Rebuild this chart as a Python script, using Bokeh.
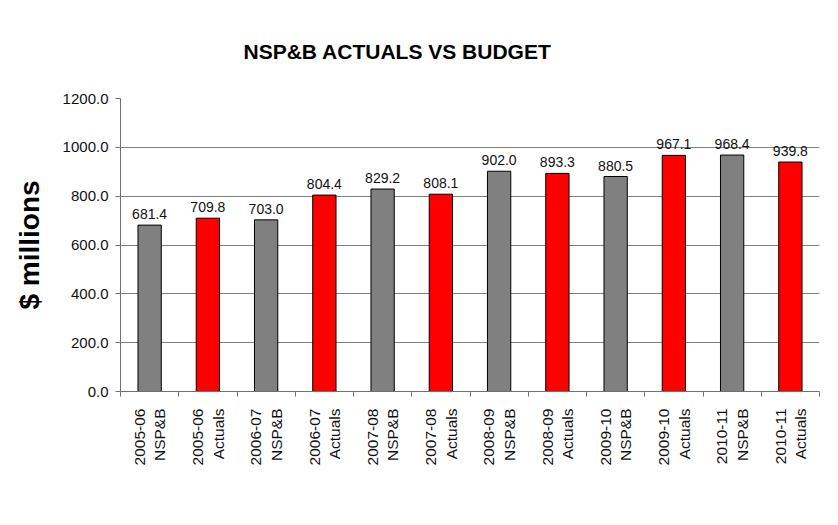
import math
from bokeh.plotting import figure
from bokeh.models import ColumnDataSource, FixedTicker, NumeralTickFormatter, Range1d, LabelSet
from bokeh.core.properties import value
from bokeh.embed import file_html
from bokeh.resources import INLINE

# ---- data ----
years = ["2005-06", "2006-07", "2007-08", "2008-09", "2009-10", "2010-11"]
series_names = ["NSP&B", "Actuals"]
budget = [681.4, 703.0, 829.2, 902.0, 880.5, 968.4]
actuals = [709.8, 804.4, 808.1, 893.3, 967.1, 939.8]
series_colors = ["#808080", "#ff0000"]
y_ticks = [0, 200, 400, 600, 800, 1000, 1200]

labels, values, fills = [], [], []
for yr, b, a in zip(years, budget, actuals):
    labels += [f"{yr}\n{series_names[0]}", f"{yr}\n{series_names[1]}"]
    values += [b, a]
    fills += series_colors
pos = list(range(1, len(labels) + 1))
bounds = [i - 0.5 for i in pos] + [pos[-1] + 0.5]

src = ColumnDataSource(dict(x=pos, top=values, fill=fills,
                            txt=[f"{v:.1f}" for v in values]))

FONT = "Liberation Sans"

p = figure(width=822, height=509,
           x_range=Range1d(bounds[0], bounds[-1]),
           y_range=Range1d(y_ticks[0], y_ticks[-1]),
           output_backend="svg", toolbar_location=None,
           min_border_left=120, min_border_right=3,
           min_border_top=98, min_border_bottom=118)
p.outline_line_color = None
p.background_fill_color = "white"

p.vbar(x="x", top="top", width=0.4, fill_color="fill", line_color="black",
       line_width=1, source=src)

p.add_layout(LabelSet(x="x", y="top", text="txt", source=src,
                      text_align="center", text_baseline="bottom", y_offset=6,
                      text_font=value(FONT), text_font_size=value("14px"),
                      text_color="#111111"))

# title
p.title.text = "NSP&B ACTUALS VS BUDGET"
p.title.text_font = FONT
p.title.text_font_size = "21px"
p.title.text_font_style = "bold"
p.title.text_color = "black"
p.title.align = "left"
p.title.offset = 123
p.title.standoff = 72

# x axis
p.xaxis.ticker = FixedTicker(ticks=pos, minor_ticks=bounds)
p.xaxis.major_label_overrides = {i: lab for i, lab in zip(pos, labels)}
p.xaxis.major_label_orientation = math.pi / 2
p.xaxis.major_tick_line_color = None
p.xaxis.minor_tick_in = 0
p.xaxis.minor_tick_out = 5
p.xaxis.minor_tick_line_color = "#707070"
p.xaxis.axis_line_color = "#707070"
p.xaxis.major_label_text_font = FONT
p.xaxis.major_label_text_font_size = "15.5px"
p.xaxis.major_label_text_color = "#111111"
p.xaxis.major_label_standoff = 11
p.xgrid.visible = False

# y axis
p.yaxis.ticker = FixedTicker(ticks=y_ticks)
p.yaxis.formatter = NumeralTickFormatter(format="0.0")
p.yaxis.minor_tick_line_color = None
p.yaxis.major_tick_in = 0
p.yaxis.major_tick_out = 5
p.yaxis.major_tick_line_color = "#707070"
p.yaxis.axis_line_color = "#707070"
p.yaxis.major_label_text_font = FONT
p.yaxis.major_label_text_font_size = "15px"
p.yaxis.major_label_text_color = "#111111"
p.yaxis.major_label_standoff = 7
p.yaxis.axis_label = "$ millions"
p.yaxis.axis_label_text_font = FONT
p.yaxis.axis_label_text_font_size = "28px"
p.yaxis.axis_label_text_font_style = "bold"
p.yaxis.axis_label_text_color = "black"
p.yaxis.axis_label_standoff = 15
p.ygrid.ticker = FixedTicker(ticks=y_ticks)
p.ygrid.grid_line_color = "#808080"

open("out.html", "w").write(file_html(p, INLINE))
